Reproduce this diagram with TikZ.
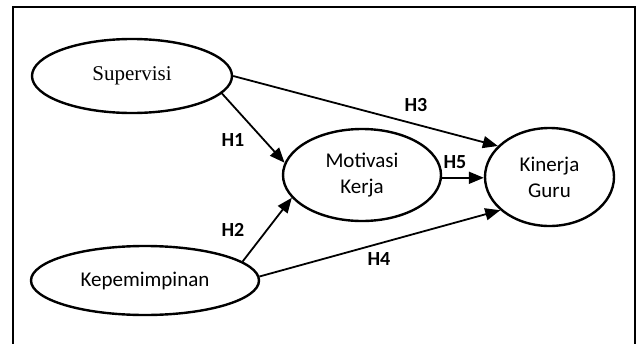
\documentclass[tikz,border=0pt]{standalone}
\usepackage{fontspec}
\setmainfont{Liberation Serif}
\newfontfamily\calib{Carlito}
\usetikzlibrary{arrows.meta,shapes.geometric}
\tikzset{
  var/.style={draw, ellipse, line width=2.4pt, inner sep=0pt, font=\calib\fontsize{21}{26}\selectfont, align=center},
  path/.style={line width=1.8pt, -{Triangle[length=15pt,width=12pt]}},
  hlab/.style={font=\calib\bfseries\fontsize{20}{24}\selectfont, inner sep=0pt}
}
\begin{document}
\begin{tikzpicture}[x=1pt,y=-1pt]
\useasboundingbox (0,0) rectangle (640,343);
\draw[line width=2.6pt] (13,345) -- (13,7) -- (635,7) -- (635,345);
\node[var, minimum width=200pt, minimum height=74pt, font=\rmfamily\fontsize{21}{26}\selectfont] (sup) at (132,76) {Supervisi};
\node[var, minimum width=228pt, minimum height=69pt] (kep) at (145,280.5) {Kepemimpinan};
\node[var, minimum width=158pt, minimum height=92pt] (mot) at (362,175) {Motivasi\\Kerja};
\node[var, minimum width=129pt, minimum height=98pt] (kin) at (549.5,177) {Kinerja\\Guru};
\draw[path] (sup.-11.6) -- (mot.171);
\draw[path] (sup.east) -- (kin.149.8);
\draw[path] (kep.11.4) -- (mot.198.4);
\draw[path] (kep.2) -- (kin.214);
\draw[path] (mot.-2) -- (mot.-2 -| kin.west);
\node[hlab] (h1) at (233,140) {H1};
\node[hlab] (h2) at (233,230) {H2};
\node[hlab] (h3) at (416,105) {H3};
\node[hlab] (h4) at (379,259) {H4};
\node[hlab] (h5) at (455,162) {H5};
\end{tikzpicture}
\end{document}
